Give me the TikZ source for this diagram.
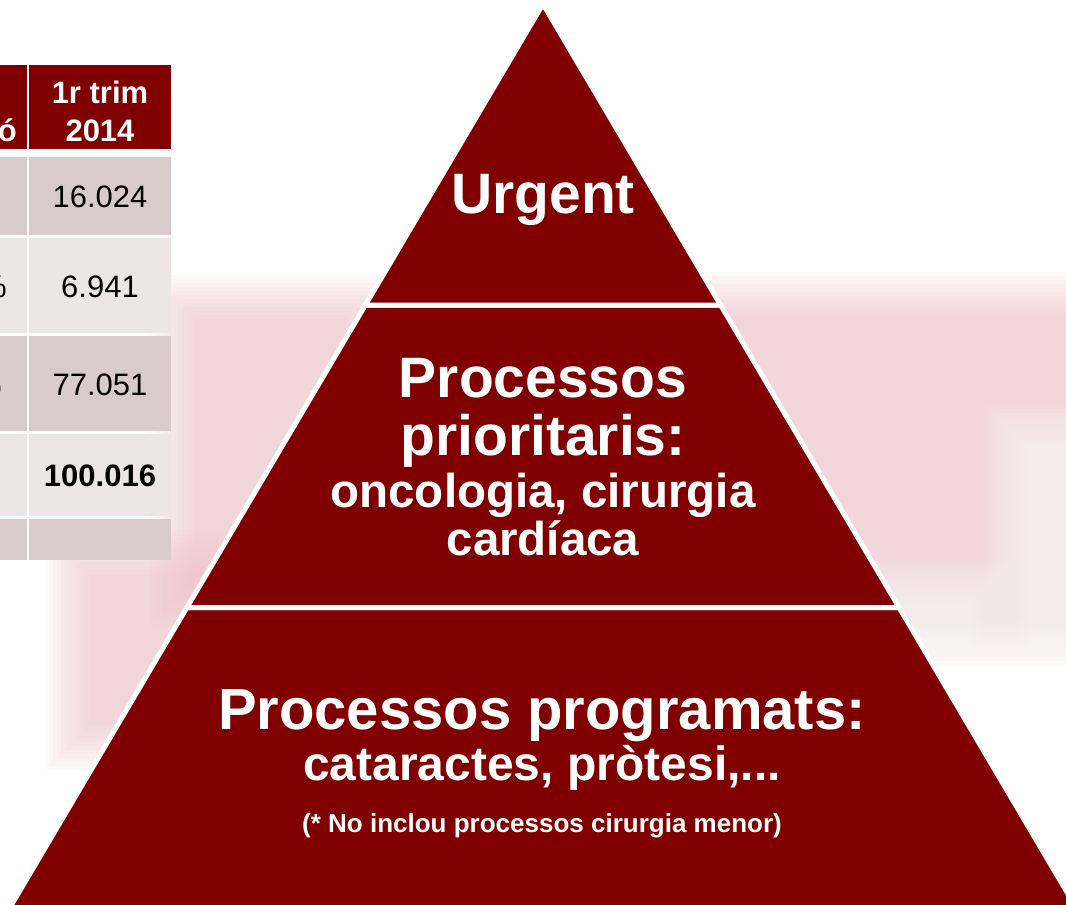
\documentclass[tikz,border=0pt]{standalone}
\usepackage{fontspec}
\setmainfont{Liberation Sans}
\definecolor{pyr}{HTML}{800000}
\definecolor{rowA}{HTML}{D9CBCB}
\definecolor{rowB}{HTML}{EDE6E6}
\definecolor{wm}{HTML}{F0C4CA}
\newcommand\wmsoft[5]{%
  \foreach \i in {0,...,11}{%
    \fill[#5, opacity=0.08] (#1+\i*4, #2+\i*4) rectangle (#3-\i*4, #4-\i*4);}}
\tikzset{
  tier/.style={fill=pyr, draw=white, line width=5pt, line join=miter},
  lvlA/.style={text=white, font=\fontsize{57}{60}\selectfont\bfseries, anchor=base, inner sep=0pt},
  lvlB/.style={text=white, font=\fontsize{47.5}{50}\selectfont\bfseries, anchor=base, inner sep=0pt},
  lvlC/.style={text=white, font=\fontsize{26}{28}\selectfont\bfseries, anchor=base, inner sep=0pt},
  hdrtxt/.style={text=white, font=\fontsize{31}{33}\selectfont\bfseries, anchor=base, inner sep=0pt},
  celltxt/.style={text=black, font=\fontsize{31}{33}\selectfont, anchor=base, inner sep=0pt},
}
\begin{document}
\begin{tikzpicture}[x=1pt, y=-1pt]
\useasboundingbox (0,0) rectangle (1066,905);
\clip (0,0) rectangle (1066,905);
\fill[white] (0,0) rectangle (1066,905);

% faint watermark in the background
\wmsoft{680}{272}{1110}{665}{wm}
\wmsoft{985}{405}{1110}{690}{white}
\wmsoft{845}{560}{1015}{700}{white}
\wmsoft{150}{275}{390}{625}{wm}
\wmsoft{45}{530}{245}{770}{wm}

% table (partly visible)
\fill[pyr] (-10,65) rectangle (27,149);
\fill[pyr] (29,65) rectangle (171,149);
\fill[rowA] (-10,157) rectangle (27,235);
\fill[rowA] (29,157) rectangle (171,235);
\fill[rowB] (-10,238) rectangle (27,333);
\fill[rowB] (29,238) rectangle (171,333);
\fill[rowA] (-10,336) rectangle (27,431);
\fill[rowA] (29,336) rectangle (171,431);
\fill[rowB] (-10,434) rectangle (27,516);
\fill[rowB] (29,434) rectangle (171,516);
\fill[rowA] (-10,519) rectangle (27,560);
\fill[rowA] (29,519) rectangle (171,560);

\node[hdrtxt, anchor=base east] (h0) at (17,141) {ó};
\node[hdrtxt] (h1) at (100,103) {1r trim};
\node[hdrtxt] (h2) at (100,141) {2014};
\begin{scope}
\clip (-10,238) rectangle (27,333);
\node[celltxt, anchor=base east] (p2) at (7,297) {\%};
\end{scope}
\begin{scope}
\clip (-10,336) rectangle (27,431);
\node[celltxt, anchor=base east] (p3) at (2,395) {\%};
\end{scope}
\node[celltxt] (c1) at (100,207) {16.024};
\node[celltxt] (c2) at (100,297) {6.941};
\node[celltxt] (c3) at (100,395) {77.051};
\node[celltxt, font=\fontsize{31}{33}\selectfont\bfseries] (c4) at (100,486) {100.016};

% pyramid
\draw[tier] (186.9,607.5) -- (899.1,607.5) -- (1086.4,925) -- (-0.4,925) -- cycle;
\draw[tier] (365.4,305) -- (720.6,305) -- (899.1,607.5) -- (186.9,607.5) -- cycle;
\draw[tier] (543,4) -- (720.6,305) -- (365.4,305) -- cycle;

\node[lvlA] (urg) at (543,213) {Urgent};
\node[lvlA] (pr1) at (543,397) {Processos};
\node[lvlA] (pr2) at (543,455) {prioritaris:};
\node[lvlB] (pr3) at (543,507) {oncologia, cirurgia};
\node[lvlB] (pr4) at (543,555) {cardíaca};
\node[lvlA, font=\fontsize{58}{60}\selectfont\bfseries] (pg1) at (542,729) {Processos programats:};
\node[lvlB, font=\fontsize{48}{50}\selectfont\bfseries] (pg2) at (542,780) {cataractes, pròtesi,...};
\node[lvlC] (pg3) at (542,832) {(* No inclou processos cirurgia menor)};
\end{tikzpicture}
\end{document}
